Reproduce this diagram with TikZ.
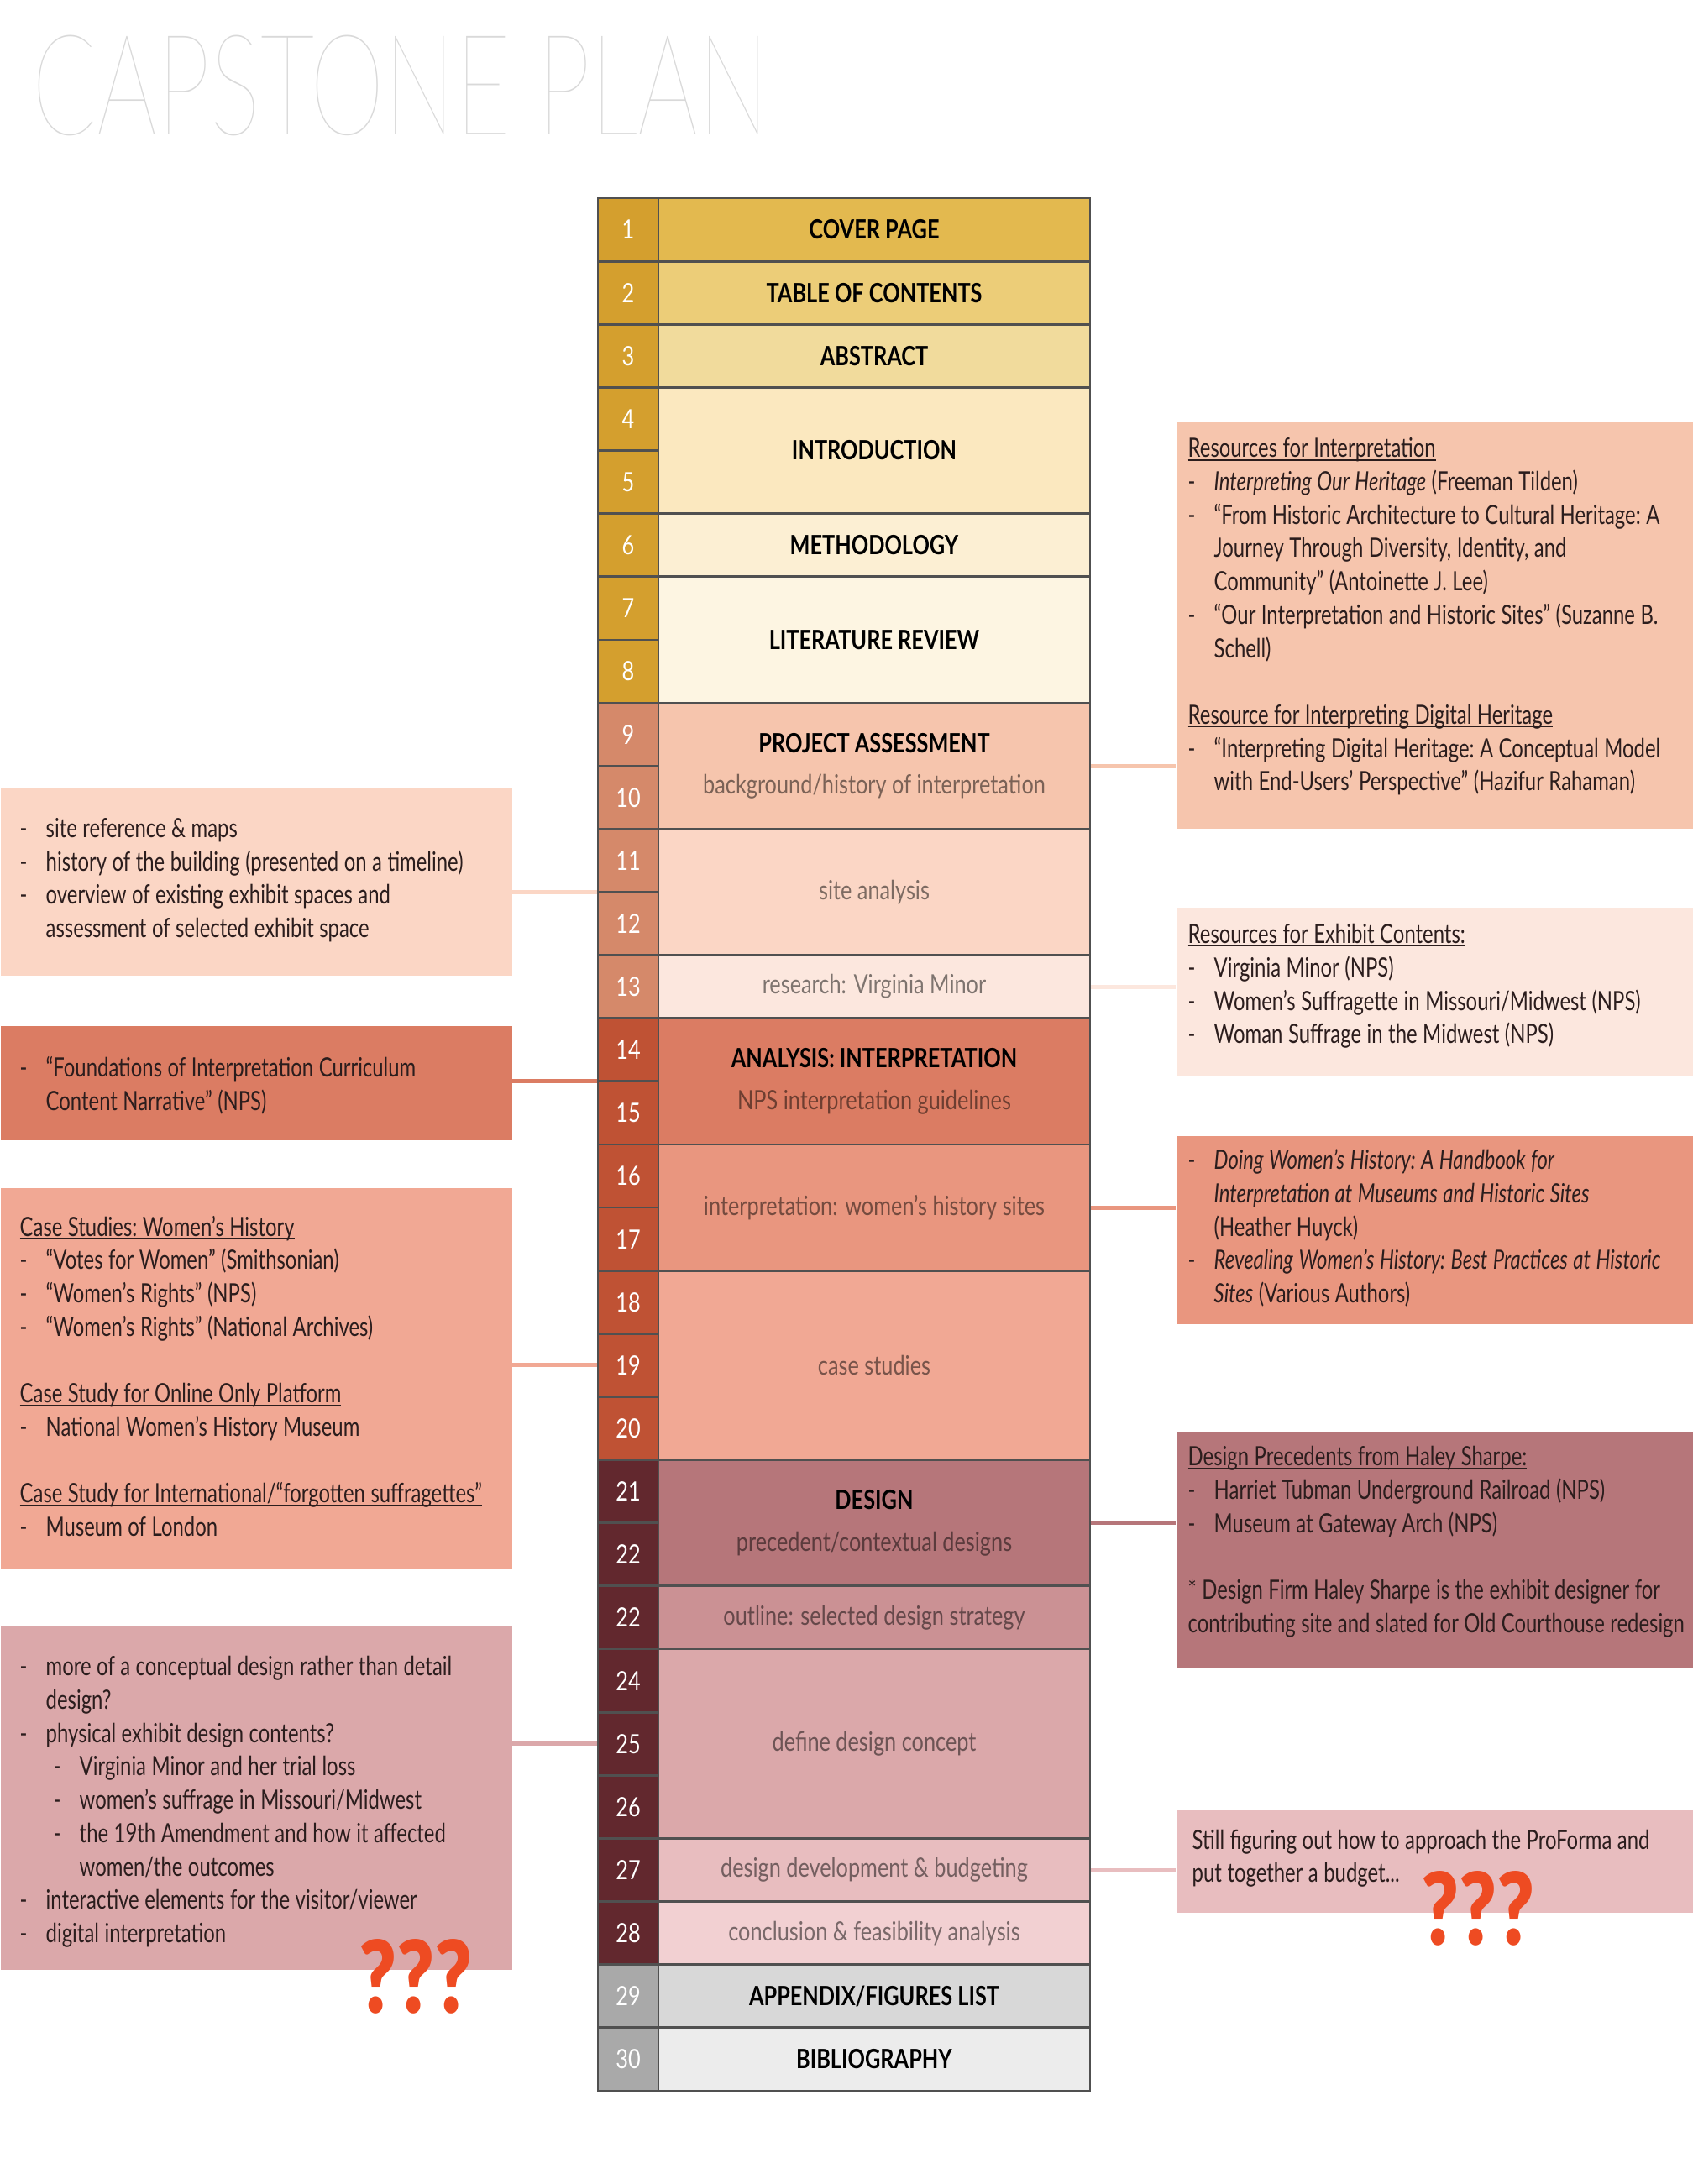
\documentclass[tikz,border=0pt]{standalone}
\usepackage{fontspec}
\setmainfont{Lato}[FakeStretch=0.8]
\newfontfamily\boxfont{Lato}[FakeStretch=0.755]
\IfFontExistsTF{Lato Hairline}
  {\newfontfamily\titlefont{Lato Hairline}[FakeStretch=0.675]}
  {\IfFontExistsTF{Lato Light}
    {\newfontfamily\titlefont{Lato Light}[FakeStretch=0.675]}
    {\newfontfamily\titlefont{Lato}[FakeStretch=0.675]}}
\IfFontExistsTF{Lato Black}
  {\newfontfamily\qfont{Lato Black}[FakeStretch=0.8]}
  {\newcommand{\qfont}{\bfseries}}
\usetikzlibrary{positioning, calc}
\hyphenpenalty=10000
\exhyphenpenalty=10000

% --- Colours ---
\definecolor{tline}{HTML}{505050}
\definecolor{titlegray}{HTML}{D9D9D9}
\definecolor{boxtext}{HTML}{2B1D1D}
\definecolor{qmark}{HTML}{EE4B22}
\definecolor{numgold}{HTML}{D49F2E}
\definecolor{numsalmon}{HTML}{D5896A}
\definecolor{numrust}{HTML}{BF5234}
\definecolor{numplum}{HTML}{62282E}
\definecolor{numgray}{HTML}{A9A9A9}
\definecolor{covfill}{HTML}{E3B94F}
\definecolor{tocfill}{HTML}{ECCD78}
\definecolor{absfill}{HTML}{F1DB9C}
\definecolor{intfill}{HTML}{FBE8BF}
\definecolor{metfill}{HTML}{FCEFD3}
\definecolor{litfill}{HTML}{FDF5E2}
\definecolor{pafill}{HTML}{F6C5AD}
\definecolor{safill}{HTML}{FBD6C5}
\definecolor{rvfill}{HTML}{FCE7DE}
\definecolor{anfill}{HTML}{DB7C63}
\definecolor{iwfill}{HTML}{E9967F}
\definecolor{csfill}{HTML}{F1A894}
\definecolor{dsfill}{HTML}{B6767A}
\definecolor{olfill}{HTML}{CB9194}
\definecolor{dcfill}{HTML}{DBA8AA}
\definecolor{ddfill}{HTML}{E8BDBF}
\definecolor{cffill}{HTML}{F2D0D2}
\definecolor{apfill}{HTML}{D8D8D8}
\definecolor{bbfill}{HTML}{ECECEC}

% --- Box text helpers ---
\newsavebox\hdbox
\newcommand{\hd}[1]{\par\noindent\sbox\hdbox{#1}\rlap{\rule[-0.12em]{\wd\hdbox}{0.45pt}}\usebox\hdbox\par}
\newcommand{\itm}[1]{\par\hangindent=0.31cm\hangafter=1\noindent\makebox[0.31cm][l]{-}#1\par}
\newcommand{\subitm}[1]{\par\hangindent=0.71cm\hangafter=1\noindent\hspace*{0.4cm}\makebox[0.31cm][l]{-}#1\par}
\newcommand{\gap}{\par\vskip\baselineskip}
\newcommand{\lift}[1]{\par\vspace*{#1}}

\begin{document}
\begin{tikzpicture}[
    font=\fontsize{9}{10.5}\selectfont,
    % --- Styles ---
    title_text/.style={font=\titlefont\fontsize{47.6}{48}\selectfont, text=titlegray, inner sep=0pt},
    num_cell/.style={fill=#1, draw=tline, line width=0.8pt, minimum width=0.72cm, minimum height=0.7513cm, inner sep=0pt, text=white},
    sec_cell/.style 2 args={fill=#1, draw=tline, line width=0.8pt, minimum width=5.14cm, minimum height=#2*0.7513cm, inner sep=0pt, align=center},
    side_box/.style={fill=#1, draw=none, anchor=north west, inner xsep=0.14cm, inner ysep=0pt, align=left,
        font=\boxfont\fontsize{9}{11.3}\selectfont, text=boxtext,
        execute at begin node={\frenchspacing\spaceskip=0.065cm plus 0.03cm minus 0.02cm\relax}},
    left_box/.style={side_box=#1, inner xsep=0.23cm, minimum width=6.09cm, text width=5.63cm},
    right_box/.style={side_box=#1, minimum width=6.16cm, text width=5.95cm},
    link_line/.style={draw=#1, line width=1.4pt},
    qmark_text/.style={font=\qfont\fontsize{34}{34}\selectfont, text=qmark, inner sep=0pt},
]
    \useasboundingbox (0,0) rectangle (20.16,-26.01);
    \fill[white] (0,0) rectangle (20.16,-26.01);
    \def\rh{0.7513}
    \def\ytop{2.36}

    % ==========================
    % 1. TITLE
    % ==========================
    \node[title_text, anchor=base west] (title) at (0.38,-1.61) {CAPSTONE PLAN};

    % ==========================
    % 2. PAGE NUMBERS
    % ==========================
    \foreach \r in {1,...,8}
        \node[num_cell=numgold] (n\r) at (7.48,{-(\ytop+(\r-0.5)*\rh)}) {\r};
    \foreach \r in {9,...,13}
        \node[num_cell=numsalmon] (n\r) at (7.48,{-(\ytop+(\r-0.5)*\rh)}) {\r};
    \foreach \r in {14,...,20}
        \node[num_cell=numrust] (n\r) at (7.48,{-(\ytop+(\r-0.5)*\rh)}) {\r};
    \foreach \r/\lbl in {21/21,22/22,23/22,24/24,25/25,26/26,27/27,28/28}
        \node[num_cell=numplum] (n\r) at (7.48,{-(\ytop+(\r-0.5)*\rh)}) {\lbl};
    \foreach \r in {29,30}
        \node[num_cell=numgray] (n\r) at (7.48,{-(\ytop+(\r-0.5)*\rh)}) {\r};

    % ==========================
    % 3. SECTIONS
    % ==========================
    \node[sec_cell={covfill}{1}] (cover) at (10.41,{-(\ytop+0.5*\rh)}) {\textbf{COVER PAGE}};
    \node[sec_cell={tocfill}{1}] (toc) at (10.41,{-(\ytop+1.5*\rh)}) {\textbf{TABLE OF CONTENTS}};
    \node[sec_cell={absfill}{1}] (abstract) at (10.41,{-(\ytop+2.5*\rh)}) {\textbf{ABSTRACT}};
    \node[sec_cell={intfill}{2}] (intro) at (10.41,{-(\ytop+4*\rh)}) {\textbf{INTRODUCTION}};
    \node[sec_cell={metfill}{1}] (method) at (10.41,{-(\ytop+5.5*\rh)}) {\textbf{METHODOLOGY}};
    \node[sec_cell={litfill}{2}] (litrev) at (10.41,{-(\ytop+7*\rh)}) {\textbf{LITERATURE REVIEW}};

    \node[sec_cell={pafill}{2}] (pa) at (10.41,{-(\ytop+9*\rh)})
        {\textbf{PROJECT ASSESSMENT}\\[3.5pt]\textcolor{black!50!pafill}{background/history of interpretation}};
    \node[sec_cell={safill}{2}, text=black!50!safill] (sa) at (10.41,{-(\ytop+11*\rh)}) {site analysis};
    \node[sec_cell={rvfill}{1}, text=black!50!rvfill] (rv) at (10.41,{-(\ytop+12.5*\rh)}) {research: Virginia Minor};

    \node[sec_cell={anfill}{2}] (an) at (10.41,{-(\ytop+14*\rh)})
        {\textbf{ANALYSIS: INTERPRETATION}\\[3.5pt]\textcolor{black!50!anfill}{NPS interpretation guidelines}};
    \node[sec_cell={iwfill}{2}, text=black!50!iwfill] (iw) at (10.41,{-(\ytop+16*\rh)}) {interpretation: women’s history sites};
    \node[sec_cell={csfill}{3}, text=black!50!csfill] (cs) at (10.41,{-(\ytop+18.5*\rh)}) {case studies};

    \node[sec_cell={dsfill}{2}] (ds) at (10.41,{-(\ytop+21*\rh)})
        {\textbf{DESIGN}\\[3.5pt]\textcolor{black!50!dsfill}{precedent/contextual designs}};
    \node[sec_cell={olfill}{1}, text=black!50!olfill] (ol) at (10.41,{-(\ytop+22.5*\rh)}) {outline: selected design strategy};
    \node[sec_cell={dcfill}{3}, text=black!50!dcfill] (dc) at (10.41,{-(\ytop+24.5*\rh)}) {define design concept};
    \node[sec_cell={ddfill}{1}, text=black!50!ddfill] (dd) at (10.41,{-(\ytop+26.5*\rh)}) {design development \& budgeting};
    \node[sec_cell={cffill}{1}, text=black!50!cffill] (cf) at (10.41,{-(\ytop+27.5*\rh)}) {conclusion \& feasibility analysis};

    \node[sec_cell={apfill}{1}] (appendix) at (10.41,{-(\ytop+28.5*\rh)}) {\textbf{APPENDIX/FIGURES LIST}};
    \node[sec_cell={bbfill}{1}] (biblio) at (10.41,{-(\ytop+29.5*\rh)}) {\textbf{BIBLIOGRAPHY}};

    % ==========================
    % 4. NOTES (Right)
    % ==========================
    \node[right_box=pafill, minimum height=4.85cm] (res_interp) at (14.00,-5.01) {%
        \hd{Resources for Interpretation}
        \itm{\textit{Interpreting Our Heritage} (Freeman Tilden)}
        \itm{“From Historic Architecture to Cultural Heritage: A\newline Journey Through Diversity, Identity, and\newline Community” (Antoinette J. Lee)}
        \itm{“Our Interpretation and Historic Sites” (Suzanne B.\newline Schell)}
        \gap
        \hd{Resource for Interpreting Digital Heritage}
        \itm{“Interpreting Digital Heritage: A Conceptual Model\newline with End-Users’ Perspective” (Hazifur Rahaman)}
        \lift{0.36cm}};

    \node[right_box=rvfill, minimum height=2.01cm] (res_exhibit) at (14.00,-10.80) {%
        \hd{Resources for Exhibit Contents:}
        \itm{Virginia Minor (NPS)}
        \itm{Women’s Suffragette in Missouri/Midwest (NPS)}
        \itm{Woman Suffrage in the Midwest (NPS)}
        \lift{0.3cm}};

    \node[right_box=iwfill, minimum height=2.24cm] (handbooks) at (14.00,-13.52) {%
        \itm{\textit{Doing Women’s History: A Handbook for}\newline \textit{Interpretation at Museums and Historic Sites}\newline (Heather Huyck)}
        \itm{\textit{Revealing Women’s History: Best Practices at Historic}\newline \textit{Sites} (Various Authors)}
        \lift{0.2cm}};

    \node[right_box=dsfill, minimum height=2.82cm] (precedents) at (14.00,-17.04) {%
        \hd{Design Precedents from Haley Sharpe:}
        \itm{Harriet Tubman Underground Railroad (NPS)}
        \itm{Museum at Gateway Arch (NPS)}
        \gap
        \noindent * Design Firm Haley Sharpe is the exhibit designer for\newline contributing site and slated for Old Courthouse redesign
        \lift{0.35cm}};

    \node[right_box=ddfill, minimum height=1.23cm, inner xsep=0.19cm, text width=5.85cm] (budget) at (14.00,-21.54) {%
        Still figuring out how to approach the ProForma and\newline put together a budget...
        \lift{0.06cm}};
    \node[qmark_text] (q_right) at (17.60,-22.73) {???};

    % ==========================
    % 5. NOTES (Left)
    % ==========================
    \node[left_box=safill, minimum height=2.24cm] (site_notes) at (0,-9.37) {%
        \itm{site reference \& maps}
        \itm{history of the building (presented on a timeline)}
        \itm{overview of existing exhibit spaces and\newline assessment of selected exhibit space}
        \lift{0.2cm}};

    \node[left_box=anfill, minimum height=1.36cm] (foundations) at (0,-12.21) {%
        \itm{“Foundations of Interpretation Curriculum\newline Content Narrative” (NPS)}
        \lift{0.1cm}};

    \node[left_box=csfill, minimum height=4.53cm] (case_notes) at (0,-14.14) {%
        \hd{Case Studies: Women’s History}
        \itm{“Votes for Women” (Smithsonian)}
        \itm{“Women’s Rights” (NPS)}
        \itm{“Women’s Rights” (National Archives)}
        \gap
        \hd{Case Study for Online Only Platform}
        \itm{National Women’s History Museum}
        \gap
        \hd{Case Study for International/“forgotten suffragettes”}
        \itm{Museum of London}
        \lift{0.2cm}};

    \node[left_box=dcfill, minimum height=4.10cm] (concept_notes) at (0,-19.35) {%
        \itm{more of a conceptual design rather than detail\newline design?}
        \itm{physical exhibit design contents?}
        \subitm{Virginia Minor and her trial loss}
        \subitm{women’s suffrage in Missouri/Midwest}
        \subitm{the 19th Amendment and how it affected\newline women/the outcomes}
        \itm{interactive elements for the visitor/viewer}
        \itm{digital interpretation}
        \lift{0.06cm}};
    \node[qmark_text] (q_left) at (4.95,-23.54) {???};

    % Links
    \draw[link_line=pafill] (pa.east) -- (pa.east -| res_interp.west);
    \draw[link_line=rvfill] (rv.east) -- (rv.east -| res_exhibit.west);
    \draw[link_line=iwfill] (iw.east) -- (iw.east -| handbooks.west);
    \draw[link_line=dsfill] (ds.east) -- (ds.east -| precedents.west);
    \draw[link_line=ddfill] (dd.east) -- (dd.east -| budget.west);
    \draw[link_line=safill] (sa.center -| n11.west) -- (sa.center -| site_notes.east);
    \draw[link_line=anfill] (an.center -| n14.west) -- (an.center -| foundations.east);
    \draw[link_line=csfill] (cs.center -| n18.west) -- (cs.center -| case_notes.east);
    \draw[link_line=dcfill] (dc.center -| n24.west) -- (dc.center -| concept_notes.east);

\end{tikzpicture}
\end{document}
